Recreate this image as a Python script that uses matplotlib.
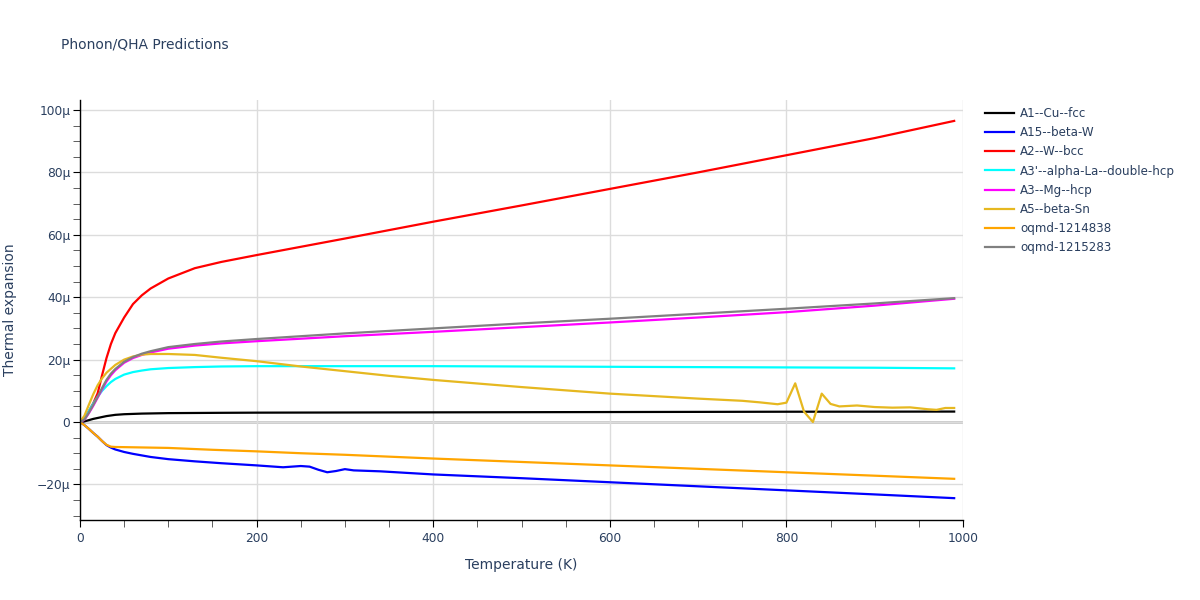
import numpy as np
import matplotlib.pyplot as plt
from matplotlib.ticker import MultipleLocator, FuncFormatter

# Temperatures (K) and thermal expansion values (in units of 1e-6 / K)
t_common = [0, 5, 10, 15, 20, 25, 30, 35, 40, 50, 60, 70, 80, 100, 130, 160,
            200, 300, 400, 500, 600, 700, 800, 900, 990]

cu_fcc = [0, 0.2, 0.6, 1.0, 1.3, 1.6, 1.9, 2.1, 2.3, 2.5, 2.6, 2.7, 2.75,
          2.85, 2.9, 2.95, 3.0, 3.05, 3.1, 3.15, 3.2, 3.25, 3.3, 3.32, 3.35]

w_bcc = [0, 1.2, 3.5, 6.0, 9.2, 15.0, 20.5, 25.0, 28.5, 33.5, 37.8, 40.6,
         42.8, 46.0, 49.3, 51.3, 53.5, 58.8, 64.2, 69.4, 74.7, 80.0, 85.5,
         91.0, 96.5]

la_dhcp = [0, 1.0, 3.5, 5.9, 8.1, 10.0, 11.5, 12.8, 13.8, 15.2, 16.0, 16.5,
           16.9, 17.3, 17.6, 17.8, 17.9, 17.9, 17.9, 17.8, 17.7, 17.6, 17.5,
           17.4, 17.2]

mg_hcp = [0, 0.7, 2.8, 5.2, 7.8, 10.5, 13.0, 15.0, 16.6, 19.0, 20.5, 21.5,
          22.3, 23.5, 24.5, 25.2, 25.9, 27.5, 28.9, 30.4, 31.9, 33.5, 35.2,
          37.3, 39.5]

oqmd_1215283 = [0, 0.8, 3.0, 5.5, 8.1, 10.9, 13.5, 15.5, 17.0, 19.3, 20.8,
                21.9, 22.7, 24.0, 25.0, 25.8, 26.6, 28.4, 30.0, 31.6, 33.1,
                34.7, 36.3, 38.0, 39.7]

t_1214838 = [0, 5, 10, 15, 20, 25, 30, 35, 40, 60, 100, 150, 200, 250, 300,
             400, 500, 600, 700, 800, 900, 990]
oqmd_1214838 = [0, -1.0, -2.2, -3.5, -4.7, -6.1, -7.3, -7.9, -8.0, -8.1,
                -8.3, -8.9, -9.4, -10.0, -10.5, -11.7, -12.8, -13.9, -15.0,
                -16.1, -17.2, -18.2]

t_beta_w = [0, 5, 10, 15, 20, 25, 30, 35, 40, 50, 60, 80, 100, 130, 160, 200,
            230, 250, 260, 270, 280, 290, 300, 310, 340, 370, 400, 500, 600,
            700, 800, 900, 990]
beta_w = [0, -1.0, -2.2, -3.5, -4.7, -6.1, -7.4, -8.2, -8.8, -9.6, -10.2,
          -11.2, -11.9, -12.6, -13.2, -13.9, -14.5, -14.1, -14.3, -15.3,
          -16.1, -15.7, -15.1, -15.5, -15.8, -16.3, -16.8, -18.0, -19.3,
          -20.6, -21.9, -23.2, -24.4]

t_beta_sn = [0, 5, 10, 15, 20, 25, 30, 40, 50, 60, 70, 80, 100, 130, 160,
             200, 250, 300, 350, 400, 500, 600, 700, 750, 770, 790, 800, 810,
             820, 830, 840, 850, 860, 880, 900, 920, 940, 960, 970, 980, 990]
beta_sn = [0, 2.0, 5.5, 8.9, 11.8, 14.0, 15.8, 18.3, 20.0, 21.0, 21.6, 21.8,
           21.8, 21.5, 20.6, 19.5, 17.8, 16.3, 14.8, 13.5, 11.2, 9.1, 7.5,
           6.8, 6.3, 5.7, 6.2, 12.4, 3.3, 0.0, 9.1, 5.8, 5.0, 5.3, 4.8, 4.6,
           4.7, 4.1, 3.9, 4.5, 4.5]

series = [
    ("A1--Cu--fcc", t_common, cu_fcc, "black"),
    ("A15--beta-W", t_beta_w, beta_w, "blue"),
    ("A2--W--bcc", t_common, w_bcc, "red"),
    ("A3'--alpha-La--double-hcp", t_common, la_dhcp, "cyan"),
    ("A3--Mg--hcp", t_common, mg_hcp, "magenta"),
    ("A5--beta-Sn", t_beta_sn, beta_sn, "#E6B820"),
    ("oqmd-1214838", t_1214838, oqmd_1214838, "orange"),
    ("oqmd-1215283", t_common, oqmd_1215283, "gray"),
]

text_color = "#2a3f5f"

fig = plt.figure(figsize=(12, 6), dpi=100)
ax = fig.add_axes([80 / 1200, 1 - 520 / 600, 883 / 1200, 420 / 600])

for label, t, y, color in series:
    ax.plot(t, y, color=color, lw=1.6, label=label)

ax.set_xlim(0, 1000)
ax.set_ylim(-31.4, 103.2)

ax.xaxis.set_major_locator(MultipleLocator(200))
ax.xaxis.set_minor_locator(MultipleLocator(50))
ax.yaxis.set_major_locator(MultipleLocator(20))
ax.yaxis.set_minor_locator(MultipleLocator(5))


def micro(v, pos):
    if abs(v) < 1e-9:
        return "0"
    s = f"{v:g}μ"
    return s.replace("-", "\u2212")


ax.yaxis.set_major_formatter(FuncFormatter(micro))

ax.grid(True, which="major", color="#dcdcdc", lw=1)
ax.axhline(0, color="#c8c8c8", lw=2, zorder=0.5)
ax.set_axisbelow(True)

for side in ("top", "right"):
    ax.spines[side].set_visible(False)
for side in ("left", "bottom"):
    ax.spines[side].set_color("black")
    ax.spines[side].set_linewidth(1)

ax.tick_params(which="major", direction="out", length=5, color="black",
               labelsize=8.8, labelcolor=text_color, pad=2)
ax.tick_params(which="minor", direction="out", length=5, color="#444444")
ax.tick_params(axis="x", which="major", pad=4)

ax.set_xlabel("Temperature (K)", fontsize=10, color=text_color, labelpad=9)
ax.set_ylabel("Thermal expansion", fontsize=10, color=text_color, labelpad=14)

fig.text(61 / 1200, 1 - 45 / 600, "Phonon/QHA Predictions", fontsize=10,
         color=text_color, va="center", ha="left")

ax.legend(loc="upper left", bbox_to_anchor=(985 / 1200, 1 - 107 / 600),
          bbox_transform=fig.transFigure, frameon=False, fontsize=8.6,
          handlelength=2.4, handletextpad=0.55, labelspacing=0.52,
          borderaxespad=0, borderpad=0, labelcolor=text_color)

fig.savefig("out.png", dpi=100)
